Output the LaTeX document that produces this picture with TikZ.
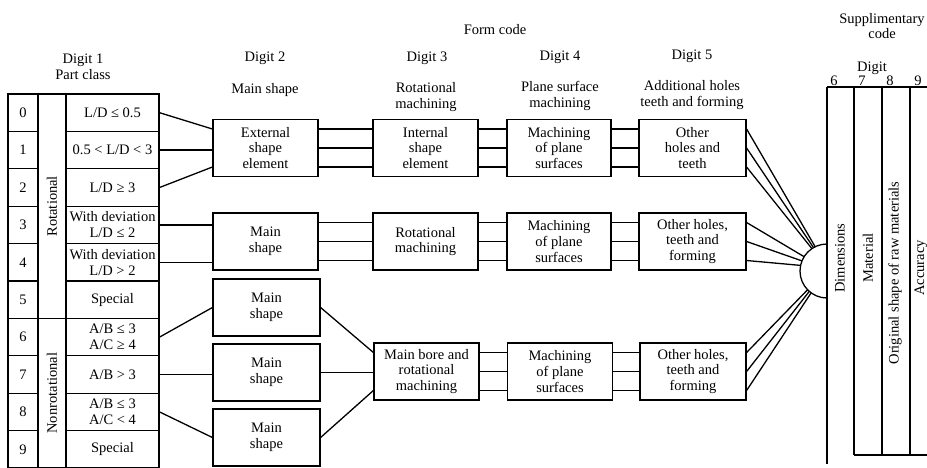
\documentclass[tikz,border=0pt]{standalone}
\usepackage{fontspec}
\setmainfont{Liberation Serif}
\begin{document}
\begin{tikzpicture}[x=1pt,y=-1pt,
  txt/.style={font=\fontsize{14.5}{15.8}\selectfont, align=center, inner sep=0pt},
  box/.style={txt, draw, line width=1.2pt, minimum width=105pt, minimum height=57pt},
  cell/.style={txt, draw, line width=1.1pt, minimum height=37.4pt},
  link/.style={line width=1.3pt},
  rule/.style={line width=1.1pt},
]
\useasboundingbox (0,0) rectangle (927,467);

% ---- headings ----
\node[txt] (formcode) at (495,30) {Form code};
\node[txt] (h1) at (83,60) {Digit 1};
\node[txt] (h1b) at (83,75) {Part class};
\node[txt] (h2) at (265,58) {Digit 2};
\node[txt] (h2b) at (265,90) {Main shape};
\node[txt] (h3) at (427,58) {Digit 3};
\node[txt] (h3b) at (426,97) {Rotational\\machining};
\node[txt] (h4) at (560,57) {Digit 4};
\node[txt] (h4b) at (560,96) {Plane surface\\machining};
\node[txt] (h5) at (692,56) {Digit 5};
\node[txt] (h5b) at (692,95) {Additional holes\\teeth and forming};
\node[txt] (sup) at (882,26) {Supplimentary\\code};
\node[txt] (sdig) at (872,68) {Digit};
\node[txt] (s6) at (834,81) {6};
\node[txt] (s7) at (862,81) {7};
\node[txt] (s8) at (890,81) {8};
\node[txt] (s9) at (918,81) {9};

% ---- digit 1 table ----
\foreach \i in {0,...,9}
  \node[cell, minimum width=30pt] (n\i) at (23,112.7+37.4*\i) {\i};
\node[cell, minimum width=93pt] (c0) at (112.5,112.7) {L/D ≤ 0.5};
\node[cell, minimum width=93pt] (c1) at (112.5,150.1) {0.5 < L/D < 3};
\node[cell, minimum width=93pt] (c2) at (112.5,187.5) {L/D ≥ 3};
\node[cell, minimum width=93pt] (c3) at (112.5,224.9) {With deviation\\L/D ≤ 2};
\node[cell, minimum width=93pt] (c4) at (112.5,262.3) {With deviation\\L/D > 2};
\node[cell, minimum width=93pt] (c5) at (112.5,299.7) {Special};
\node[cell, minimum width=93pt] (c6) at (112.5,337.1) {A/B ≤ 3\\A/C ≥ 4};
\node[cell, minimum width=93pt] (c7) at (112.5,374.5) {A/B > 3};
\node[cell, minimum width=93pt] (c8) at (112.5,411.9) {A/B ≤ 3\\A/C < 4};
\node[cell, minimum width=93pt] (c9) at (112.5,449.3) {Special};
\node[cell, rotate=90, minimum width=224.4pt, minimum height=28pt] (rot) at (52,206.2) {Rotational};
\node[cell, rotate=90, minimum width=149.6pt, minimum height=28pt] (nonrot) at (52,393.2) {Nonrotational};

% ---- digit 2 ----
\node[box] (d2a) at (265.5,148) {External\\shape\\element};
\node[box] (d2b) at (265.5,241.5) {Main\\shape};
\node[box, minimum width=107pt] (d2c) at (266.5,307.5) {Main\\shape};
\node[box, minimum width=107pt] (d2d) at (266.5,372.5) {Main\\shape};
\node[box, minimum width=107pt] (d2e) at (266.5,437.5) {Main\\shape};

% ---- digit 3 ----
\node[box] (d3a) at (425.5,148) {Internal\\shape\\element};
\node[box] (d3b) at (425.5,241.5) {Rotational\\machining};
\node[box] (d3c) at (426.5,371.5) {Main bore and\\rotational\\machining};

% ---- digit 4 ----
\node[box, minimum width=104pt] (d4a) at (559,148) {Machining\\of plane\\surfaces};
\node[box, minimum width=104pt] (d4b) at (559,241.5) {Machining\\of plane\\surfaces};
\node[box, minimum width=105pt] (d4c) at (560,371.5) {Machining\\of plane\\surfaces};

% ---- digit 5 ----
\node[box, minimum width=107pt] (d5a) at (692.5,148) {Other\\holes and\\teeth};
\node[box, minimum width=107pt] (d5b) at (692.5,241.5) {Other holes,\\teeth and\\forming};
\node[box, minimum width=106pt] (d5c) at (693,371.5) {Other holes,\\teeth and\\forming};

% ---- links from part class to digit 2 ----
\draw[link] (c0.east) -- ([yshift=19pt]d2a.west);
\draw[link] (c1.east) -- (c1.east -| d2a.west);
\draw[link] (c2.east) -- ([yshift=-19pt]d2a.west);
\draw[link] (c3.east) -- (c3.east -| d2b.west);
\draw[link] (c4.east) -- (c4.east -| d2b.west);
\draw[link] (c6.east) -- (d2c.west);
\draw[link] (c7.east) -- (c7.east -| d2d.west);
\draw[link] (c8.east) -- (d2e.west);

% ---- three-line links along the rows ----
\foreach \a/\b in {d2a/d3a, d3a/d4a, d4a/d5a, d2b/d3b, d3b/d4b, d4b/d5b, d3c/d4c, d4c/d5c}
  \foreach \s in {19,0,-19}
    \draw[link] ([yshift=\s pt]\a.east) -- ([yshift=\s pt]\a.east -| \b.west);

\draw[link] (d2c.east) -- ([yshift=19pt]d3c.west);
\draw[link] (d2d.east) -- (d2d.east -| d3c.west);
\draw[link] (d2e.east) -- ([yshift=-19pt]d3c.west);

% ---- hub joining digit 5 to the supplementary code ----
\coordinate (hub) at (827,271);
\draw[link] ([shift={(90:27pt)}]hub) arc[start angle=90, end angle=270, radius=27pt];
\draw[link] ([yshift=19pt]d5a.east) -- ([shift={(116:27pt)}]hub);
\draw[link] (d5a.east) -- ([shift={(120:27pt)}]hub);
\draw[link] ([yshift=-19pt]d5a.east) -- ([shift={(124:27pt)}]hub);
\draw[link] ([yshift=19pt]d5b.east) -- ([shift={(148:27pt)}]hub);
\draw[link] (d5b.east) -- ([shift={(158:27pt)}]hub);
\draw[link] ([yshift=-19pt]d5b.east) -- ([shift={(168:27pt)}]hub);
\draw[link] ([yshift=19pt]d5c.east) -- ([shift={(224:27pt)}]hub);
\draw[link] (d5c.east) -- ([shift={(229:27pt)}]hub);
\draw[link] ([yshift=-19pt]d5c.east) -- ([shift={(234:27pt)}]hub);

% ---- supplementary code columns ----
\coordinate (t6) at (827,87);
\coordinate (t7) at (854,87);
\coordinate (t8) at (882,87);
\coordinate (t9) at (910,87);
\coordinate (tr) at (927,87);
\coordinate (b6) at (827,464);
\coordinate (b7) at (854,455);
\coordinate (b8) at (882,455);
\coordinate (b9) at (910,455);
\coordinate (br) at (927,455);
\draw[rule] (t6) -- (tr);
\draw[rule] (t6) -- (b6);
\draw[rule] (t7) -- (b7);
\draw[rule] (t8) -- (b8);
\draw[rule] (t9) -- (b9);
\draw[rule] (b7) -- (br);
\node[txt, rotate=90] (dim) at (840,258) {Dimensions};
\node[txt, rotate=90] (mat) at (868,258) {Material};
\node[txt, rotate=90] (orig) at (895,273) {Original shape of raw materials};
\node[txt, rotate=90] (acc) at (921,268) {Accuracy};
\end{tikzpicture}
\end{document}
